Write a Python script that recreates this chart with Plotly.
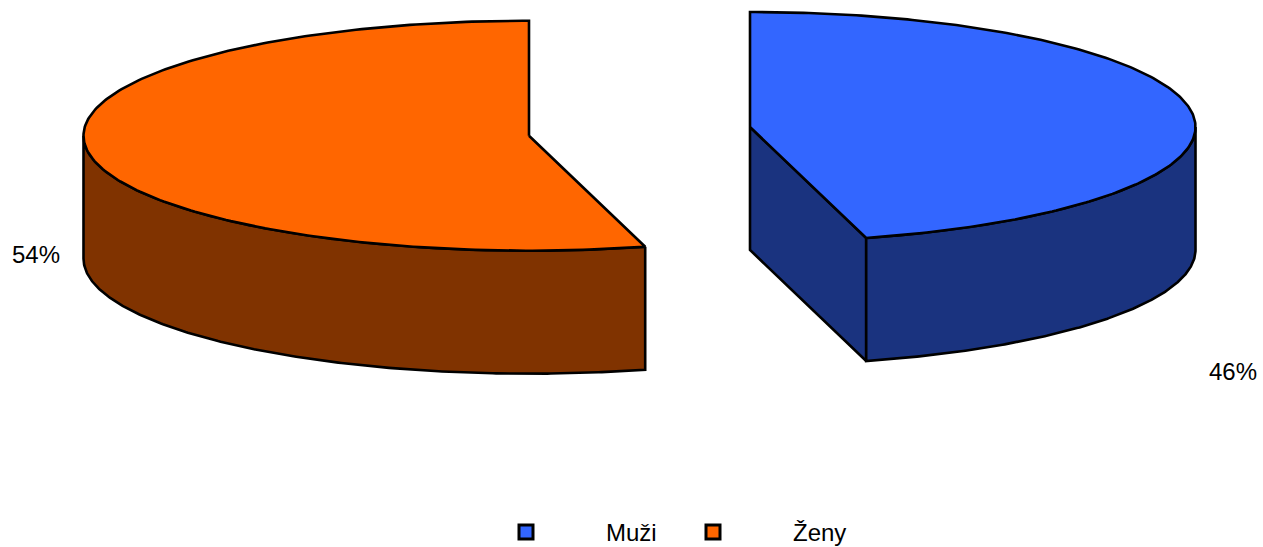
import numpy as np
import plotly.graph_objects as go

categories = ["Muži", "Ženy"]
values = [45.8, 54.2]
value_labels = ["46%", "54%"]
top_colors = ["#3366FF", "#FF6600"]
side_colors = ["#1A337F", "#803300"]

W, H = 1263, 547
RX, RY, DEPTH = 445.5, 115.0, 123.0
CENTERS = {"Muži": (750.0, 127.0), "Ženy": (529.0, 135.7)}
LABEL_POS = {"Muži": (1233, 371), "Ženy": (36, 254)}
LEGEND_POS = {"Muži": (526, 631), "Ženy": (713, 819)}
LEGEND_Y = 532


def arc(cx, cy, a0, a1, n=240):
    """Points on the projected ellipse; angle is clockwise from the top, in degrees."""
    a = np.radians(np.linspace(a0, a1, n))
    return cx + RX * np.sin(a), cy - RY * np.cos(a)


def poly(fig, x, y, fill):
    fig.add_trace(go.Scatter(
        x=list(x), y=list(y), mode="lines", fill="toself", fillcolor=fill,
        line=dict(color="black", width=2.6), hoverinfo="skip", showlegend=False))


fig = go.Figure()
start = 0.0
total = sum(values)
for name, val, top, side in zip(categories, values, top_colors, side_colors):
    sweep = 360.0 * val / total
    end = start + sweep
    cx, cy = CENTERS[name]
    # outer wall: only the front half of the rim (90..270 degrees) is visible
    lo, hi = max(start, 90.0), min(end, 270.0)
    ax, ay = arc(cx, cy, lo, hi)
    wx = np.concatenate([ax, ax[::-1], ax[:1]])
    wy = np.concatenate([ay, ay[::-1] + DEPTH, ay[:1]])
    # cut face on the first slice, seen from the front
    if start == 0.0:
        ex, ey = arc(cx, cy, end, end, 1)
        poly(fig, [cx, ex[0], ex[0], cx, cx], [cy, ey[0], ey[0] + DEPTH, cy + DEPTH, cy], side)
    poly(fig, wx, wy, side)
    # top face
    tx, ty = arc(cx, cy, start, end)
    poly(fig, np.concatenate([[cx], tx, [cx]]), np.concatenate([[cy], ty, [cy]]), top)
    start = end

annotations = []
for name, lab in zip(categories, value_labels):
    x, y = LABEL_POS[name]
    annotations.append(dict(x=x, y=y, text=lab, showarrow=False, xanchor="center", yanchor="middle"))

for name, top in zip(categories, top_colors):
    mx, tx = LEGEND_POS[name]
    fig.add_trace(go.Scatter(
        x=[mx], y=[LEGEND_Y], mode="markers", hoverinfo="skip", showlegend=False,
        marker=dict(symbol="square", size=14, color=top, line=dict(color="black", width=3))))
    annotations.append(dict(x=tx, y=LEGEND_Y, text=name, showarrow=False, xanchor="center", yanchor="middle"))

fig.update_layout(
    width=W, height=H, margin=dict(l=0, r=0, t=0, b=0),
    paper_bgcolor="white", plot_bgcolor="white",
    font=dict(family="Liberation Sans, Arial, sans-serif", size=24, color="black"),
    xaxis=dict(range=[0, W], visible=False, fixedrange=True),
    yaxis=dict(range=[H, 0], visible=False, fixedrange=True),
    annotations=annotations, showlegend=False,
)
fig.write_html("out.html", config={"displayModeBar": False},
               post_script="document.body.style.margin='0';document.body.style.overflow='hidden';")
